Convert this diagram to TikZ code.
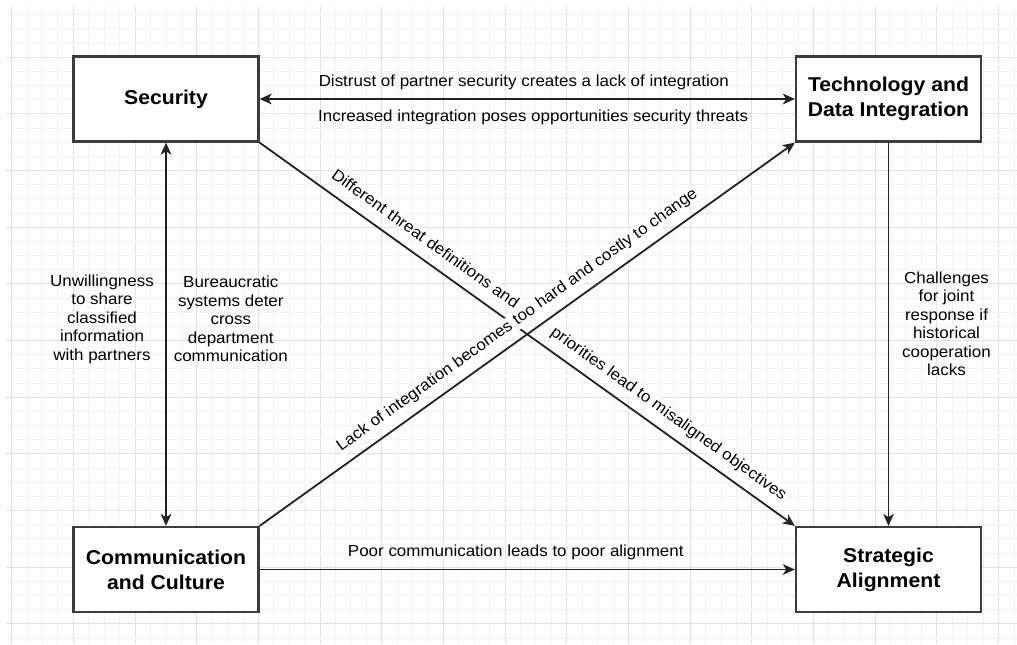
\documentclass[tikz,border=0pt]{standalone}
\usepackage{fontspec}
\setmainfont{Liberation Sans}[FakeStretch=1.06]
\usetikzlibrary{arrows.meta}
\definecolor{gridminor}{HTML}{F2F2F2}
\definecolor{gridmajor}{HTML}{E2E2E2}
\definecolor{boxgray}{HTML}{3C3C3C}
\definecolor{linegray}{HTML}{222222}
\begin{document}
\begin{tikzpicture}[x=0.75pt,y=-0.75pt,
  box/.style={draw=boxgray, line width=1.7pt, fill=white, minimum width=138.75pt,
    minimum height=63.75pt, inner sep=0pt, align=center,
    font=\fontsize{15pt}{18.6pt}\selectfont\bfseries},
  conn/.style={draw=linegray, line width=1.35pt},
  tip/.style={-{Stealth[length=9pt,width=8pt,inset=2.5pt]}},
  bitip/.style={{Stealth[length=9pt,width=8pt,inset=2.5pt]}-{Stealth[length=9pt,width=8pt,inset=2.5pt]}},
  lab/.style={font=\fontsize{12pt}{13.9pt}\selectfont, text=black, inner sep=1pt},
  slab/.style={lab, sloped, anchor=base, yshift=9.75pt, fill=white},
  sidelab/.style={lab, align=center}
]
\useasboundingbox (0,0) rectangle (1017,644);
\fill[white] (0,0) rectangle (1017,644);
% grid
\foreach \k in {0,...,65}{
  \pgfmathtruncatemacro\m{mod(\k,4)}
  \ifnum\m=0 \def\gc{gridmajor}\else\def\gc{gridminor}\fi
  \draw[\gc, line width=0.75pt] ({11.7+15.42*\k},6) -- ({11.7+15.42*\k},644);
}
\foreach \k in {1,...,45}{
  \pgfmathtruncatemacro\m{mod(\k,4)}
  \ifnum\m=0 \def\gc{gridmajor}\else\def\gc{gridminor}\fi
  \draw[\gc, line width=0.75pt] (6,{0.5+14.17*\k}) -- (1017,{0.5+14.17*\k});
}
% boxes
\node[box] (sec) at (166,99) {Security};
\node[box] (tech) at (888.5,99) {Technology and\\Data Integration};
\node[box] (comm) at (166,569.5) {Communication\\and Culture};
\node[box] (strat) at (888.5,569.5) {Strategic\\Alignment};
% connectors
\draw[conn, bitip] (sec.east) --
  node[lab, pos=0.4935, anchor=base, yshift=9.4pt] {Distrust of partner security creates a lack of integration}
  node[lab, pos=0.511, anchor=base, yshift=-16.9pt] {Increased integration poses opportunities security threats}
  (tech.west);
\draw[conn, bitip] (sec.south) --
  node[sidelab, pos=0.46, xshift=-48pt] {Unwillingness\\to share\\classified\\information\\with partners}
  node[sidelab, pos=0.46, xshift=48.6pt] {Bureaucratic\\systems deter\\cross\\department\\communication}
  (comm.north);
\draw[conn, tip] (tech.south) --
  node[sidelab, pos=0.473, xshift=43.5pt] {Challenges\\for joint\\response if\\historical\\cooperation\\lacks}
  (strat.north);
\draw[conn, tip] (comm.east) --
  node[lab, pos=0.4786, anchor=base, yshift=10.1pt] {Poor communication leads to poor alignment}
  (strat.west);
\draw[conn, tip] (sec.south east) --
  node[slab, pos=0.29] {Different threat definitions and}
  node[slab, pos=0.745] {priorities lead to misaligned objectives}
  (strat.north west);
\draw[conn, tip] (comm.north east) --
  node[slab, pos=0.5] {Lack of integration becomes too hard and costly to change}
  (tech.south west);
\end{tikzpicture}
\end{document}
